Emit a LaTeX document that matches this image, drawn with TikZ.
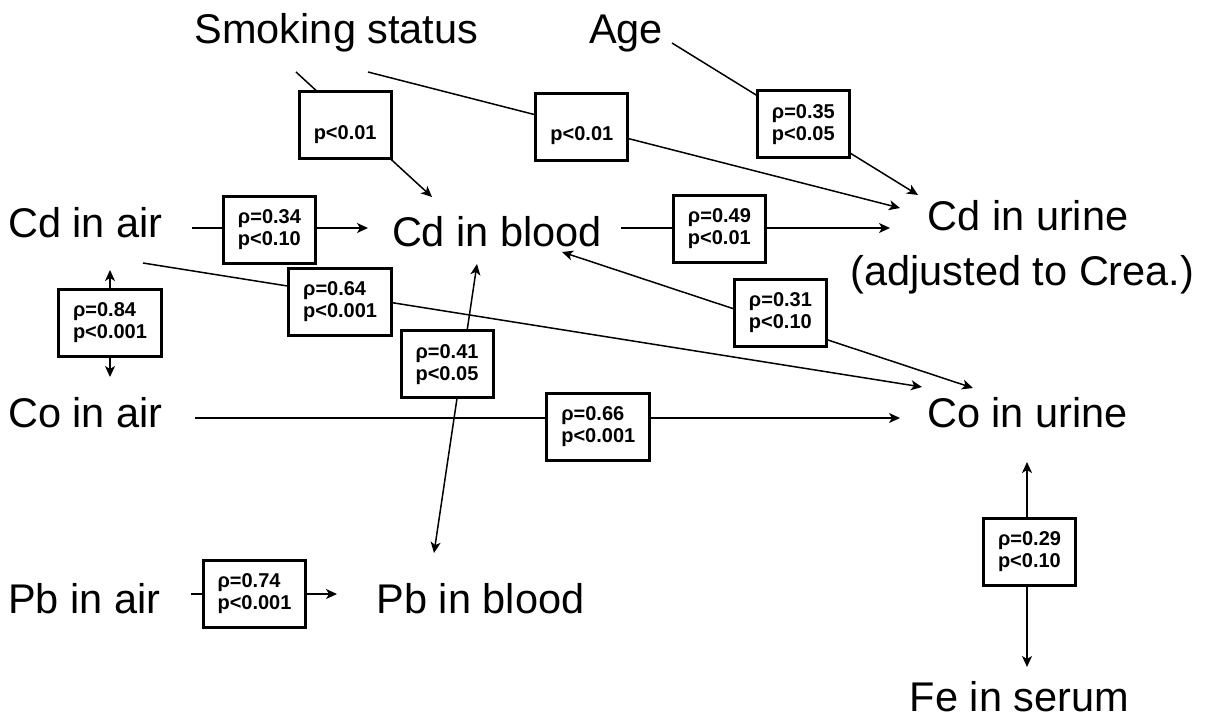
\documentclass[tikz,border=0pt]{standalone}
\usepackage{fontspec}
\setmainfont{Liberation Sans}
\usetikzlibrary{arrows.meta}
\tikzset{
  myt/.tip={Stealth[length=11pt,width=10pt,inset=3pt]},
  lbl/.style={inner sep=0pt, font=\fontsize{41.5}{48}\selectfont, anchor=base},
  lblw/.style={lbl, anchor=base west},
  stat/.style={draw, line width=3pt, fill=white, font=\bfseries\fontsize{20}{22}\selectfont,
    align=left, inner xsep=14.5pt, inner ysep=0pt, minimum height=67pt},
  conn/.style={line width=1.5pt, -myt},
  bconn/.style={line width=1.5pt, myt-myt},
}
\begin{document}
\begin{tikzpicture}[x=1pt,y=-1pt]
\useasboundingbox (0,0) rectangle (1206,718);

% variable labels
\node[lbl]  (smoke)   at (336.5,43) {Smoking status};
\node[lbl]  (age)     at (626,43)   {Age};
\node[lblw] (cdair)   at (8,237)    {Cd in air};
\node[lbl]  (cdblood) at (497,246)  {Cd in blood};
\node[lbl]  (cdurine) at (1028,230) {Cd in urine};
\node[lbl]  (cdurine2) at (1022.5,285) {(adjusted to Crea.)};
\node[lblw] (coair)   at (8,427)    {Co in air};
\node[lbl]  (courine) at (1027.5,427) {Co in urine};
\node[lblw] (pbair)   at (8,613)    {Pb in air};
\node[lbl]  (pbblood) at (480.5,613) {Pb in blood};
\node[lbl]  (feserum) at (1019.5,711) {Fe in serum};

% connector end points
\coordinate (s1a) at (296,72);   \coordinate (s1b) at (432,197);
\coordinate (s2a) at (368,72);   \coordinate (s2b) at (900,208);
\coordinate (aga) at (672,43);   \coordinate (agb) at (918,195);
\coordinate (c1a) at (192,228);  \coordinate (c1b) at (368,228);
\coordinate (c2a) at (621,228);  \coordinate (c2b) at (890,228);
\coordinate (c3a) at (110,270);  \coordinate (c3b) at (110,377);
\coordinate (c4a) at (143,263);  \coordinate (c4b) at (922,387);
\coordinate (c5a) at (562,252);  \coordinate (c5b) at (973,388);
\coordinate (c6a) at (477,264);  \coordinate (c6b) at (434,553);
\coordinate (c7a) at (195,418);  \coordinate (c7b) at (900,418);
\coordinate (c8a) at (191,594);  \coordinate (c8b) at (337,594);
\coordinate (c9a) at (1027,462); \coordinate (c9b) at (1027,667);

% connectors with statistics boxes
\draw[conn] (s1a) -- node[stat, pos=0.391, xshift=-4pt, yshift=-4.6pt] (bs1) {\phantom{ρ}\\p<0.01} (s1b);
\draw[conn] (s2a) -- node[stat, pos=0.402] (bs2) {\phantom{ρ}\\p<0.01} (s2b);
\draw[conn] (aga) -- node[stat, pos=0.534] (b035) {ρ=0.35\\p<0.05} (agb);
\draw[conn] (c1a) -- node[stat, pos=0.44, yshift=-1.5pt] (b034) {ρ=0.34\\p<0.10} (c1b);
\draw[conn] (c2a) -- node[stat, pos=0.366, yshift=-1pt] (b049) {ρ=0.49\\p<0.01} (c2b);
\draw[bconn] (c3a) -- node[stat, pos=0.495] (b084) {ρ=0.84\\p<0.001} (c3b);
\draw[conn] (c4a) -- node[stat, pos=0.253, yshift=-7.6pt] (b064) {ρ=0.64\\p<0.001} (c4b);
\draw[bconn] (c5a) -- node[stat, pos=0.523, xshift=3.5pt, yshift=10.6pt] (b031) {ρ=0.31\\p<0.10} (c5b);
\draw[bconn] (c6a) -- node[stat, pos=0.355, xshift=-14.7pt, yshift=2.2pt] (b041) {ρ=0.41\\p<0.05} (c6b);
\draw[conn] (c7a) -- node[stat, pos=0.572, yshift=-8.5pt] (b066) {ρ=0.66\\p<0.001} (c7b);
\draw[conn] (c8a) -- node[stat, pos=0.435] (b074) {ρ=0.74\\p<0.001} (c8b);
\draw[bconn] (c9a) -- node[stat, pos=0.439, xshift=2.5pt] (b029) {ρ=0.29\\p<0.10} (c9b);
\end{tikzpicture}
\end{document}
